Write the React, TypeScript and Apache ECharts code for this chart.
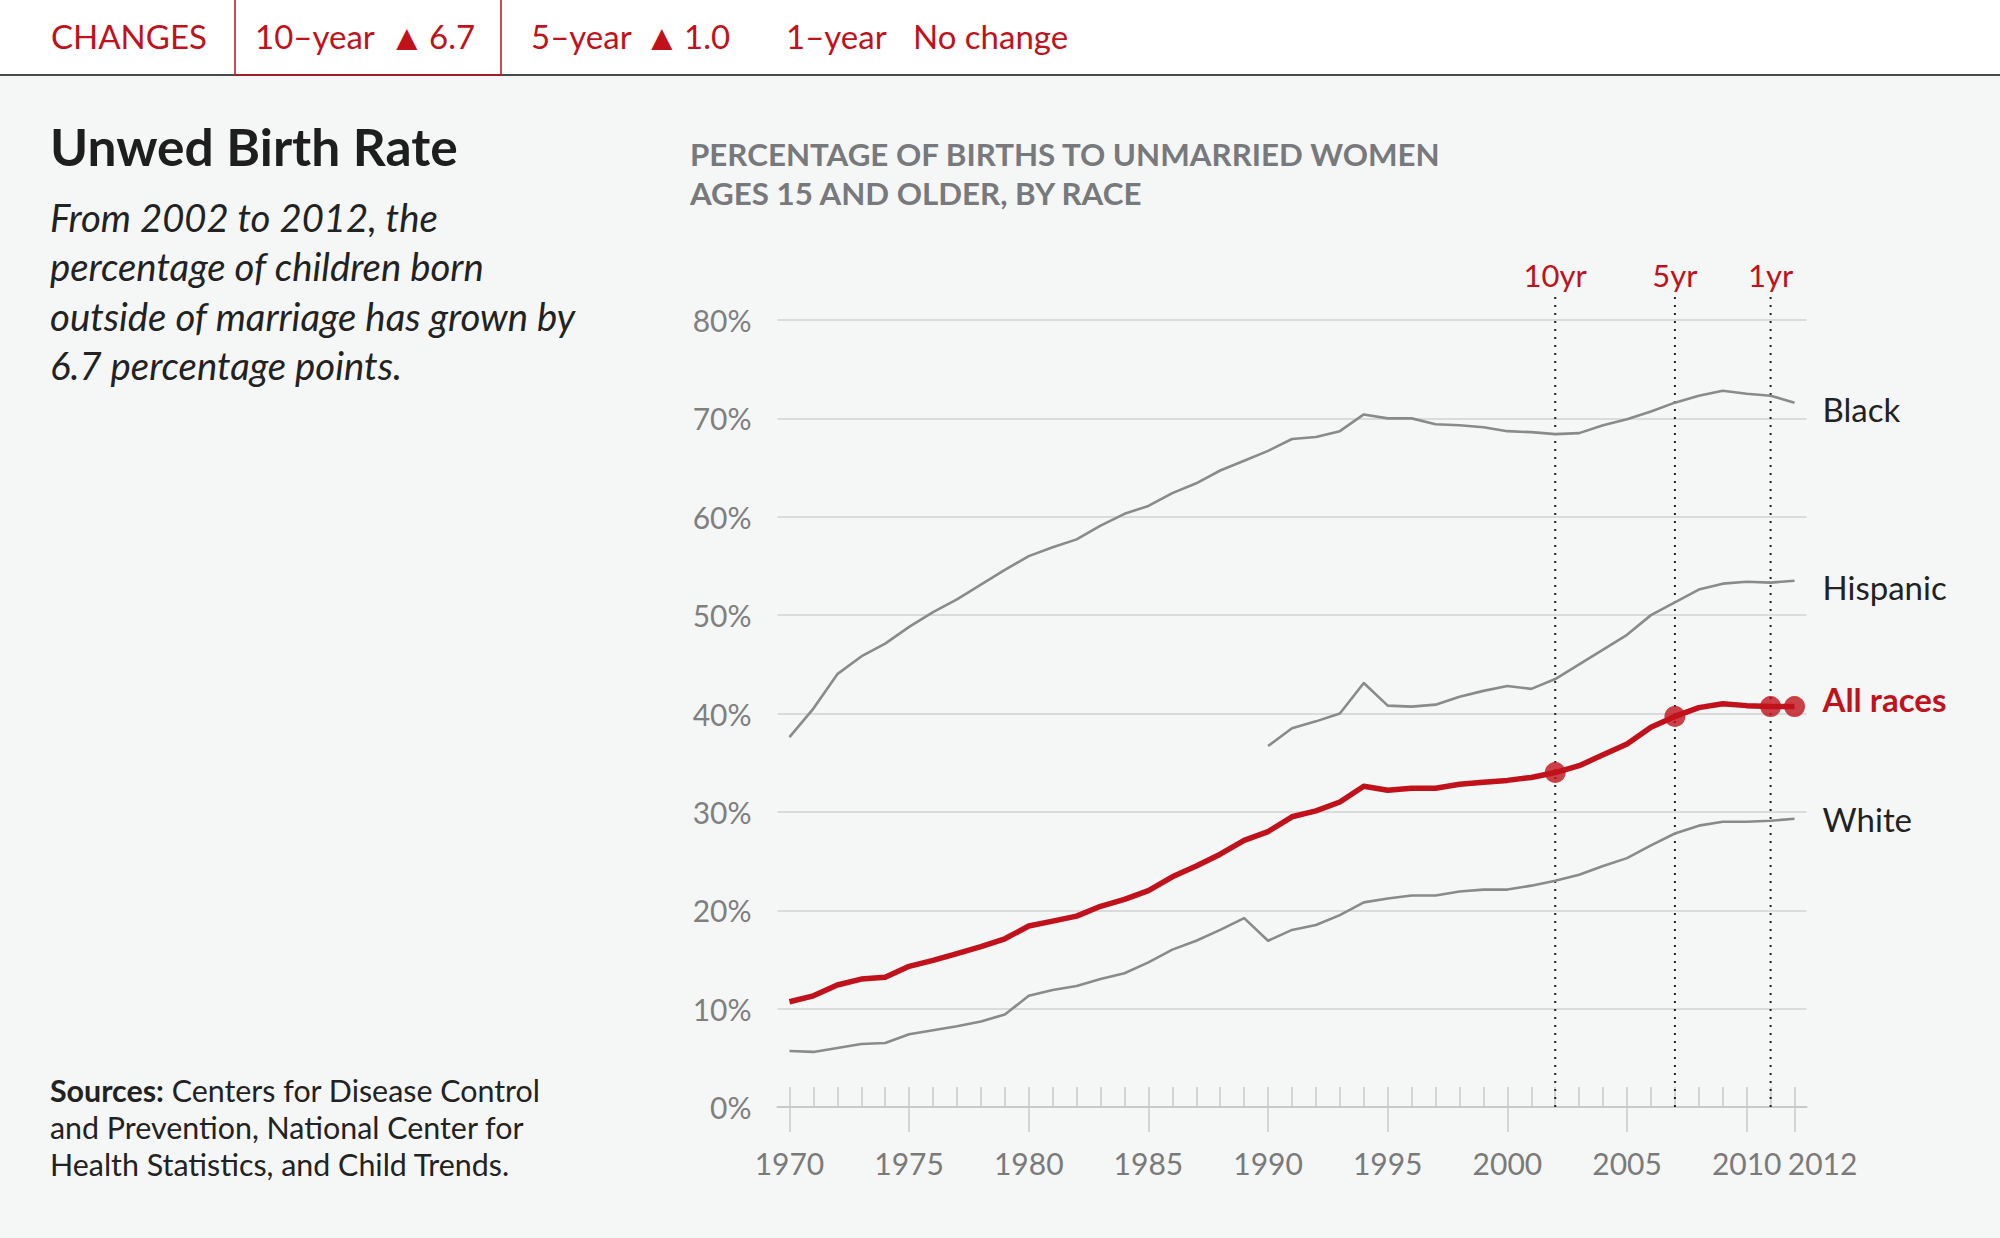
import React, { useEffect, useRef } from "react";
import * as echarts from "echarts";

const years = [
  "1970","1971","1972","1973","1974","1975","1976","1977","1978","1979",
  "1980","1981","1982","1983","1984","1985","1986","1987","1988","1989",
  "1990","1991","1992","1993","1994","1995","1996","1997","1998","1999",
  "2000","2001","2002","2003","2004","2005","2006","2007","2008","2009",
  "2010","2011","2012",
];

const black = [
  37.6, 40.5, 44.0, 45.8, 47.1, 48.8, 50.3, 51.6, 53.1, 54.6,
  56.0, 56.9, 57.7, 59.1, 60.3, 61.1, 62.4, 63.4, 64.7, 65.7,
  66.7, 67.9, 68.1, 68.7, 70.4, 70.0, 70.0, 69.4, 69.3, 69.1,
  68.7, 68.6, 68.4, 68.5, 69.3, 69.9, 70.7, 71.6, 72.3, 72.8,
  72.5, 72.3, 71.6,
];

const hispanic = [
  null, null, null, null, null, null, null, null, null, null,
  null, null, null, null, null, null, null, null, null, null,
  36.7, 38.5, 39.2, 40.0, 43.1, 40.8, 40.7, 40.9, 41.7, 42.3,
  42.8, 42.5, 43.5, 45.0, 46.5, 48.0, 50.0, 51.3, 52.6, 53.2,
  53.4, 53.3, 53.5,
];

const allRaces = [
  10.7, 11.3, 12.4, 13.0, 13.2, 14.3, 14.9, 15.6, 16.3, 17.1,
  18.4, 18.9, 19.4, 20.4, 21.1, 22.0, 23.4, 24.5, 25.7, 27.1,
  28.0, 29.5, 30.1, 31.0, 32.6, 32.2, 32.4, 32.4, 32.8, 33.0,
  33.2, 33.5, 34.0, 34.7, 35.8, 36.9, 38.6, 39.7, 40.6, 41.0,
  40.8, 40.7, 40.7,
];

const white = [
  5.7, 5.6, 6.0, 6.4, 6.5, 7.4, 7.8, 8.2, 8.7, 9.4,
  11.3, 11.9, 12.3, 13.0, 13.6, 14.7, 16.0, 16.9, 18.0, 19.2,
  16.9, 18.0, 18.5, 19.5, 20.8, 21.2, 21.5, 21.5, 21.9, 22.1,
  22.1, 22.5, 23.0, 23.6, 24.5, 25.3, 26.6, 27.8, 28.6, 29.0,
  29.0, 29.1, 29.3,
];

const markerYears = ["2002", "2007", "2011"];
const markerLabels = ["10yr", "5yr", "1yr"];
const dotYears = ["2002", "2007", "2011", "2012"];
const labeledYears = ["1970", "1975", "1980", "1985", "1990", "1995", "2000", "2005", "2010", "2012"];

const RED = "#c1121c";
const GRAY = "#8a8a8a";
const FONT = 'Lato, "Noto Sans", sans-serif';

export default function App() {
  const ref = useRef<HTMLDivElement>(null);

  useEffect(() => {
    document.body.style.margin = "0";
    const chart = echarts.init(ref.current!, null, { renderer: "svg" });

    const lineSeries = (name: string, data: any[], color: string, width: number, offY: number, bold = false) => ({
      name,
      type: "line",
      data,
      symbol: "none",
      connectNulls: false,
      lineStyle: { color, width, join: "round" },
      endLabel: {
        show: true,
        formatter: "{a}",
        distance: 28,
        offset: [0, offY],
        color: bold ? RED : "#222",
        fontSize: 33,
        fontWeight: bold ? "bold" : "normal",
        fontFamily: FONT,
      },
      z: bold ? 5 : 3,
    });

    const topText = (text: string, x: number, size = 33) => ({
      type: "text",
      style: { text, x, y: 36, verticalAlign: "middle", fill: RED, fontSize: size, fontFamily: FONT },
    });

    const option: any = {
      animation: false,
      backgroundColor: "#f5f6f6",
      grid: { left: 777.5, right: 193.5, top: 320, bottom: 1238 - 1107, containLabel: false },
      xAxis: [
        {
          type: "category",
          data: years,
          boundaryGap: true,
          axisLine: { show: true, lineStyle: { color: "#c9c9c9", width: 2 } },
          axisTick: { show: true, inside: true, length: 20, alignWithLabel: true, interval: 0, lineStyle: { color: "#c9c9c9", width: 1.5 } },
          axisLabel: {
            show: true,
            interval: (i: number, v: string) => labeledYears.includes(v),
            hideOverlap: false,
            showMaxLabel: true,
            formatter: (v: string) => (v === "2012" ? "{s|" + v + "}" : v),
            rich: { s: { padding: [0, 0, 0, 56], color: "#7a7a7a", fontSize: 30, fontFamily: FONT } },
            margin: 41,
            color: "#7a7a7a",
            fontSize: 30,
            fontFamily: FONT,
          },
          splitLine: { show: false },
        },
        {
          type: "category",
          data: years,
          boundaryGap: true,
          position: "bottom",
          axisLine: { show: false },
          axisTick: {
            show: true,
            inside: false,
            length: 25,
            alignWithLabel: true,
            interval: (i: number, v: string) => labeledYears.includes(v),
            lineStyle: { color: "#c9c9c9", width: 1.5 },
          },
          axisLabel: { show: false },
          splitLine: { show: false },
        },
      ],
      yAxis: {
        type: "value",
        min: 0,
        max: 80,
        interval: 10,
        axisLine: { show: false },
        axisTick: { show: false },
        axisLabel: { formatter: "{value}%", color: "#7f7f7f", fontSize: 30, fontFamily: FONT, margin: 26 },
        splitLine: { show: true, lineStyle: { color: "#d2d2d2", width: 1.5 } },
      },
      series: [
        {
          type: "custom",
          name: "markers",
          clip: false,
          data: markerYears.map((y, i) => [y, i]),
          encode: { x: 0, y: 1 },
          renderItem: (params: any, api: any) => {
            const bottom = api.coord([api.value(0), 0]);
            const top = api.coord([api.value(0), 82.4]);
            const lab = api.coord([api.value(0), 84.6]);
            return {
              type: "group",
              children: [
                {
                  type: "line",
                  shape: { x1: bottom[0], y1: bottom[1], x2: top[0], y2: top[1] },
                  style: { stroke: "#222", lineWidth: 2, lineDash: [2, 6] },
                },
                {
                  type: "text",
                  style: {
                    text: markerLabels[params.dataIndex],
                    x: lab[0],
                    y: lab[1],
                    align: "center",
                    verticalAlign: "middle",
                    fill: RED,
                    fontSize: 31,
                    fontFamily: FONT,
                  },
                },
              ],
            };
          },
          z: 2,
        },
        lineSeries("White", white, GRAY, 2.6, 0),
        lineSeries("Black", black, GRAY, 2.6, 6),
        lineSeries("Hispanic", hispanic, GRAY, 2.6, 6),
        lineSeries("All races", allRaces, RED, 5.5, -8, true),
        {
          type: "scatter",
          name: "dots",
          data: dotYears.map((y) => [y, allRaces[years.indexOf(y)]]),
          symbol: "circle",
          symbolSize: 21,
          itemStyle: { color: RED },
          z: 6,
        },
      ],
      graphic: [
        { type: "rect", shape: { x: 0, y: 0, width: 2000, height: 75 }, style: { fill: "#ffffff" }, z: 0 },
        { type: "line", shape: { x1: 0, y1: 75, x2: 2000, y2: 75 }, style: { stroke: "#4a4a4a", lineWidth: 2 } },
        { type: "rect", shape: { x: 235, y: -2, width: 266, height: 77 }, style: { fill: "none", stroke: RED, lineWidth: 1.5 } },
        topText("CHANGES", 51),
        topText("10\u2013year", 255),
        topText("\u25B2", 389, 36),
        topText("6.7", 429),
        topText("5\u2013year", 531),
        topText("\u25B2", 644, 36),
        topText("1.0", 684),
        topText("1\u2013year", 786),
        topText("No change", 913),
        { type: "text", style: { text: "Unwed Birth Rate", x: 50, y: 146, verticalAlign: "middle", fill: "#1e1e1e", fontSize: 51.5, fontWeight: "bold", fontFamily: FONT } },
        {
          type: "text",
          style: {
            text: "From 2002 to 2012, the\npercentage of children born\noutside of marriage has grown by\n6.7 percentage points.",
            x: 50,
            y: 192,
            fill: "#222",
            fontSize: 38.3,
            fontStyle: "italic",
            lineHeight: 49.5,
            fontFamily: FONT,
          },
        },
        {
          type: "text",
          style: {
            text: "PERCENTAGE OF BIRTHS TO UNMARRIED WOMEN\nAGES 15 AND OLDER, BY RACE",
            x: 690,
            y: 134,
            fill: "#77797c",
            fontSize: 31.3,
            fontWeight: "bold",
            lineHeight: 39,
            fontFamily: FONT,
          },
        },
        {
          type: "text",
          style: {
            text: "{b|Sources:} Centers for Disease Control\nand Prevention, National Center for\nHealth Statistics, and Child Trends.",
            x: 50,
            y: 1071,
            fill: "#222",
            fontSize: 30.4,
            lineHeight: 37,
            fontFamily: FONT,
            rich: { b: { fontWeight: "bold", fontSize: 30.4, fontFamily: FONT, fill: "#222", lineHeight: 37 } },
          },
        },
      ],
    };

    chart.setOption(option);
    return () => chart.dispose();
  }, []);

  return <div ref={ref} style={{ position: "absolute", left: 0, top: 0, width: 2000, height: 1238 }} />;
}
